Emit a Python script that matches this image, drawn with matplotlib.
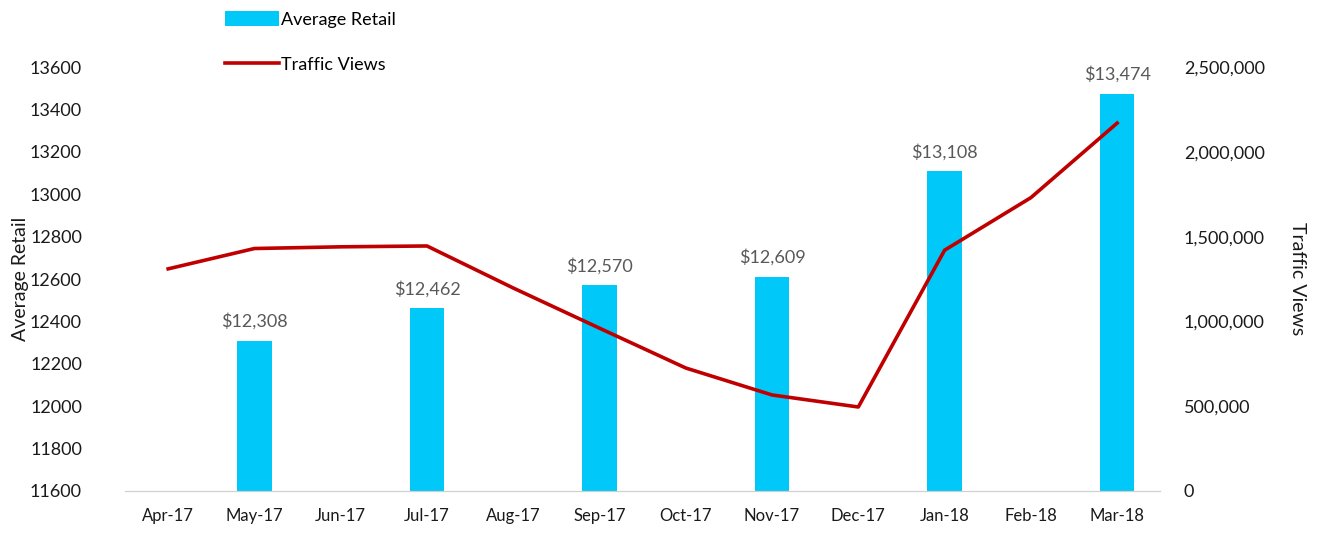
import matplotlib.pyplot as plt
import numpy as np

months = ["Apr-17", "May-17", "Jun-17", "Jul-17", "Aug-17", "Sep-17",
          "Oct-17", "Nov-17", "Dec-17", "Jan-18", "Feb-18", "Mar-18"]
# average retail only reported every other month
retail = [np.nan, 12308, np.nan, 12462, np.nan, 12570,
          np.nan, 12609, np.nan, 13108, np.nan, 13474]
traffic = [1310000, 1430000, 1440000, 1445000, 1197000, 960000,
           725000, 566000, 495000, 1420000, 1730000, 2170000]

plt.rcParams['font.family'] = ['Lato', 'DejaVu Sans']

fig = plt.figure(figsize=(13.23, 5.33), dpi=100)
ax = fig.add_axes([0.0945, 0.079, 0.7825, 0.795])
x = np.arange(len(months))

bars = ax.bar(x, np.nan_to_num(retail, nan=0), width=0.4, color="#00C8F8",
              label="Average Retail", zorder=2)
ax.set_ylim(11600, 13600)
ax.set_xlim(-0.5, 11.5)
ax.set_yticks(np.arange(11600, 13601, 200))
ax.set_xticks(x)
ax.set_xticklabels(months)
ax.set_ylabel("Average Retail", fontsize=14, color="#1a1a1a", va="center")
ax.yaxis.set_label_coords(-0.101, 0.5)

for xi, v in zip(x, retail):
    if not np.isnan(v):
        ax.annotate(f"${v:,.0f}", (xi, v), xytext=(0, 8), textcoords="offset points",
                    ha="center", va="bottom", fontsize=13, color="#595959")

ax2 = ax.twinx()
line, = ax2.plot(x, traffic, color="#C00000", lw=2.6, label="Traffic Views", zorder=3)
ax2.set_ylim(0, 2500000)
ax2.set_yticks(np.arange(0, 2500001, 500000))
ax2.set_yticklabels([f"{t:,}" for t in range(0, 2500001, 500000)])
ax2.set_ylabel("Traffic Views", fontsize=14, color="#1a1a1a", rotation=-90, va="center")
ax2.yaxis.set_label_coords(1.133, 0.5)

for a in (ax, ax2):
    for s in ("top", "left", "right"):
        a.spines[s].set_visible(False)
    a.spines["bottom"].set_color("#d0d0d0")
    a.tick_params(length=0, labelsize=13, colors="#1a1a1a")
ax.tick_params(axis="x", labelsize=12, pad=12)
ax.tick_params(axis="y", pad=31)
ax2.tick_params(axis="y", pad=17)

fig.legend(handles=[bars, line], loc="upper left", bbox_to_anchor=(0.158, 1.01),
           frameon=False, fontsize=13, handlelength=3.0, handleheight=0.9,
           handletextpad=0.1, labelspacing=1.6)

fig.savefig("out.png", dpi=100)
